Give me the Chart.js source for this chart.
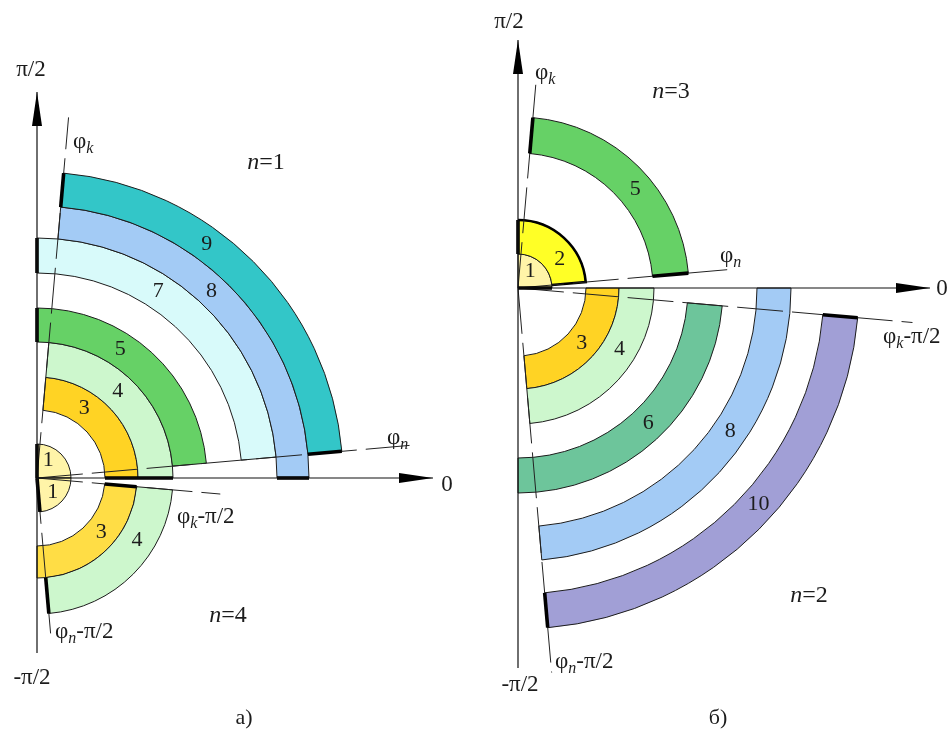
<!DOCTYPE html>
<html>
<head>
<meta charset="utf-8">
<script src="https://cdn.jsdelivr.net/npm/chart.js@4.4.1/dist/chart.umd.min.js"></script>
<style>
  html, body { margin: 0; padding: 0; background: #fff; overflow: hidden; }
  canvas { display: block; }
</style>
</head>
<body>
<canvas id="chart" width="951" height="729"></canvas>
<script>
/* ── Кольцевые секторы: номер, радиусы, угловой диапазон (град.) ── */

// панель а), n=1
const aUpNames = ['1', '3', '4', '5', '7', '8', '9'];
const aUpInner = [0, 68, 101, 136, 205, 240, 272];
const aUpOuter = [34, 101, 136, 170, 240, 272, 306];
const aUpFrom  = [0, 0, 0, 5, 5, 0, 5];
const aUpTo    = [90, 85, 85, 90, 90, 85, 85];

// панель а), n=4
const aLowNames = ['1', '3', '4'];
const aLowInner = [0, 68, 100];
const aLowOuter = [34, 100, 136];
const aLowFrom  = [-85, -90, -85];
const aLowTo    = [0, -5, -5];

// панель б), n=3
const bUpNames = ['1', '2', '5'];
const bUpInner = [0, 34, 135];
const bUpOuter = [34, 68, 171];
const bUpFrom  = [0, 5, 5];
const bUpTo    = [90, 90, 85];

// панель б), n=2
const bLowNames = ['3', '4', '6', '8', '10'];
const bLowInner = [68, 101, 170, 239, 306];
const bLowOuter = [101, 136, 205, 273, 341];
const bLowFrom  = [-85, -85, -90, -85, -85];
const bLowTo    = [0, 0, -5, 0, -5];

// лучи φk, φn, φk-π/2, φn-π/2 (угол, длина)
const rayAngles = [85, 5, -5, -85];
const aRayLen   = [362, 374, 184, 164];
const bRayLen   = [204, 210, 396, 386];

// оси: нижний и верхний конец вертикальной, конец горизонтальной
const aAxis = [-175, 386, 396];
const bAxis = [-380, 248, 412];

/* ── Стиль ── */
const FILL = {
  '1': '#FFF4A8', '2': '#FFFF26', '3': '#FFD324', '4': '#CDF7CD', '5': '#66D166',
  '6': '#6DC59B', '7': '#D8FAFA', '8': '#A3CBF5', '9': '#33C6C8', '10': '#A19FD6',
};
const FILL_A_LOW3 = '#FFDD45';
const INK = '#1c1c1c';
const SERIF = '"Liberation Serif", "DejaVu Serif", serif';

// жирные отметки на концах [from, to]
const aUpMarks  = [[0, 1], [1, 0], [1, 0], [0, 1], [0, 1], [1, 0], [1, 1]];
const aLowMarks = [[1, 0], [0, 1], [1, 0]];
const bUpMarks  = [[1, 0], [0, 1], [1, 1]];
const bLowMarks = [[0, 0], [0, 0], [0, 0], [0, 0], [1, 1]];

// угол подписи номера внутри кольца
const aUpLabelDeg  = [58, 56, 47, 57, 57, 47, 54];
const aLowLabelDeg = [-41, -40, -32];
const bUpLabelDeg  = [54, 35, 40];
const bLowLabelDeg = [-41, -31, -46, -34, -42];

// центры панелей (координаты данных)
const CENTER_A = { x: 0, y: 0 };
const CENTER_B = { x: 481, y: 190 };

// подписи: [x, y, сегменты, выравнивание, размер]
const PHI_K = [['φ'], ['k', 'sub']];
const PHI_N = [['φ'], ['n', 'sub']];
const texts = [
  [-6, 408, [['π/2']], 'center', 23],
  [-5, -200, [['-π/2']], 'center', 23],
  [410, -7, [['0']], 'center', 23],
  [229, 315, [['n', 'it'], ['=1']], 'center', 24],
  [191, -138, [['n', 'it'], ['=4']], 'center', 24],
  [36, 336, PHI_K, 'left', 23],
  [350, 40, PHI_N, 'left', 23],
  [140, -39, [...PHI_K, ['-π/2']], 'left', 23],
  [18, -154, [...PHI_N, ['-π/2']], 'left', 23],
  [207, -240, [['а)']], 'center', 22],
  [472, 456, [['π/2']], 'center', 23],
  [483, -207, [['-π/2']], 'center', 23],
  [905, 189, [['0']], 'center', 23],
  [634, 386, [['n', 'it'], ['=3']], 'center', 24],
  [772, -118, [['n', 'it'], ['=2']], 'center', 24],
  [498, 405, PHI_K, 'left', 23],
  [683, 222, PHI_N, 'left', 23],
  [846, 141, [...PHI_K, ['-π/2']], 'left', 23],
  [518, -184, [...PHI_N, ['-π/2']], 'left', 23],
  [681, -240, [['б)']], 'center', 22],
];

function group(center, names, inner, outer, from, to, marks, labelDeg, fills) {
  return names.map((n, i) => ({
    center, name: n, r0: inner[i], r1: outer[i], a0: from[i], a1: to[i],
    marks: marks[i], labelDeg: labelDeg[i], fill: (fills && fills[i]) || FILL[n],
  }));
}

const rings = [
  ...group(CENTER_A, aUpNames, aUpInner, aUpOuter, aUpFrom, aUpTo, aUpMarks, aUpLabelDeg),
  ...group(CENTER_A, aLowNames, aLowInner, aLowOuter, aLowFrom, aLowTo, aLowMarks, aLowLabelDeg,
    [null, FILL_A_LOW3, null]),
  ...group(CENTER_B, bUpNames, bUpInner, bUpOuter, bUpFrom, bUpTo, bUpMarks, bUpLabelDeg),
  ...group(CENTER_B, bLowNames, bLowInner, bLowOuter, bLowFrom, bLowTo, bLowMarks, bLowLabelDeg),
];

const rad = d => d * Math.PI / 180;

// ── Plugin: рисует схему через шкалы графика ──
const schemePlugin = {
  id: 'scheme',
  afterDatasetsDraw(chart) {
    const { ctx } = chart;
    const xs = chart.scales.x, ys = chart.scales.y;
    const P = (c, r, deg) => ({
      x: xs.getPixelForValue(c.x + r * Math.cos(rad(deg))),
      y: ys.getPixelForValue(c.y + r * Math.sin(rad(deg))),
    });
    const R = (c, r) => Math.abs(xs.getPixelForValue(c.x + r) - xs.getPixelForValue(c.x));

    ctx.save();

    // кольцевые секторы
    rings.forEach(g => {
      const cx = xs.getPixelForValue(g.center.x), cy = ys.getPixelForValue(g.center.y);
      ctx.beginPath();
      ctx.arc(cx, cy, R(g.center, g.r1), -rad(g.a1), -rad(g.a0), false);
      ctx.arc(cx, cy, R(g.center, g.r0), -rad(g.a0), -rad(g.a1), true);
      ctx.closePath();
      ctx.fillStyle = g.fill;
      ctx.fill();
      ctx.lineWidth = 1;
      ctx.strokeStyle = INK;
      ctx.stroke();
    });

    // жирный контур кольца 2 (панель б)
    rings.filter(g => g.center === CENTER_B && g.name === '2').forEach(g => {
      const cx = xs.getPixelForValue(g.center.x), cy = ys.getPixelForValue(g.center.y);
      ctx.beginPath();
      const s = P(g.center, g.r0, g.a0);
      ctx.moveTo(s.x, s.y);
      ctx.arc(cx, cy, R(g.center, g.r1), -rad(g.a0), -rad(g.a1), true);
      ctx.lineWidth = 2.6;
      ctx.strokeStyle = '#000';
      ctx.stroke();
    });

    // штриховые лучи
    ctx.setLineDash([46, 9]);
    ctx.lineWidth = 1;
    ctx.strokeStyle = '#222';
    [[CENTER_A, aRayLen], [CENTER_B, bRayLen]].forEach(([c, lens]) => {
      rayAngles.forEach((deg, i) => {
        const s = P(c, 0, deg), e = P(c, lens[i], deg);
        ctx.beginPath();
        ctx.moveTo(s.x, s.y);
        ctx.lineTo(e.x, e.y);
        ctx.stroke();
      });
    });
    ctx.setLineDash([]);

    // жирные отметки на концах
    ctx.lineWidth = 3.6;
    ctx.strokeStyle = '#000';
    ctx.lineCap = 'butt';
    rings.forEach(g => {
      [g.a0, g.a1].forEach((deg, k) => {
        if (!g.marks[k]) return;
        const s = P(g.center, g.r0, deg), e = P(g.center, g.r1, deg);
        ctx.beginPath();
        ctx.moveTo(s.x, s.y);
        ctx.lineTo(e.x, e.y);
        ctx.stroke();
      });
    });

    // оси со стрелками
    const arrow = (tip, dir) => {
      const L = 34, W = 5;
      ctx.beginPath();
      if (dir === 'up') {
        ctx.moveTo(tip.x, tip.y);
        ctx.lineTo(tip.x - W, tip.y + L);
        ctx.lineTo(tip.x + W, tip.y + L);
      } else {
        ctx.moveTo(tip.x, tip.y);
        ctx.lineTo(tip.x - L, tip.y - W);
        ctx.lineTo(tip.x - L, tip.y + W);
      }
      ctx.closePath();
      ctx.fillStyle = '#000';
      ctx.fill();
    };
    [[CENTER_A, aAxis], [CENTER_B, bAxis]].forEach(([c, ax]) => {
      ctx.lineWidth = 1.2;
      ctx.strokeStyle = '#111';
      const v0 = P(c, ax[0], 90), v1 = P(c, ax[1], 90);
      const o = P(c, 0, 0), h1 = P(c, ax[2], 0);
      const bottom = { x: v0.x, y: ys.getPixelForValue(c.y + ax[0]) };
      ctx.beginPath();
      ctx.moveTo(bottom.x, bottom.y);
      ctx.lineTo(v1.x, v1.y);
      ctx.moveTo(o.x, o.y);
      ctx.lineTo(h1.x, h1.y);
      ctx.stroke();
      arrow(v1, 'up');
      arrow(h1, 'right');
    });

    // номера колец
    ctx.fillStyle = INK;
    ctx.textAlign = 'center';
    ctx.textBaseline = 'middle';
    ctx.font = `22px ${SERIF}`;
    rings.forEach(g => {
      const rMid = g.r0 === 0 ? 21 : (g.r0 + g.r1) / 2;
      const p = P(g.center, rMid, g.labelDeg);
      ctx.fillText(g.name, p.x, p.y);
    });

    // подписи
    texts.forEach(([x, y, segs, align, size]) => {
      const px = xs.getPixelForValue(x), py = ys.getPixelForValue(y);
      const fontOf = s => {
        if (s[1] === 'sub') return `italic ${Math.round(size * 0.68)}px ${SERIF}`;
        if (s[1] === 'it') return `italic ${size}px ${SERIF}`;
        return `${size}px ${SERIF}`;
      };
      let total = 0;
      segs.forEach(s => { ctx.font = fontOf(s); total += ctx.measureText(s[0]).width; });
      let cur = align === 'center' ? px - total / 2 : px;
      ctx.textAlign = 'left';
      segs.forEach(s => {
        ctx.font = fontOf(s);
        const dy = s[1] === 'sub' ? size * 0.3 : 0;
        ctx.fillText(s[0], cur, py + dy);
        cur += ctx.measureText(s[0]).width;
      });
    });

    ctx.restore();
  }
};

new Chart(document.getElementById('chart'), {
  type: 'scatter',
  data: { datasets: [{ data: [], pointRadius: 0 }] },
  options: {
    responsive: false,
    animation: false,
    devicePixelRatio: 1,
    layout: { padding: 0 },
    plugins: { legend: { display: false }, tooltip: { enabled: false } },
    scales: {
      x: { type: 'linear', min: -37, max: 914, display: false },
      y: { type: 'linear', min: -251, max: 478, display: false },
    },
  },
  plugins: [schemePlugin],
});
</script>
</body>
</html>
